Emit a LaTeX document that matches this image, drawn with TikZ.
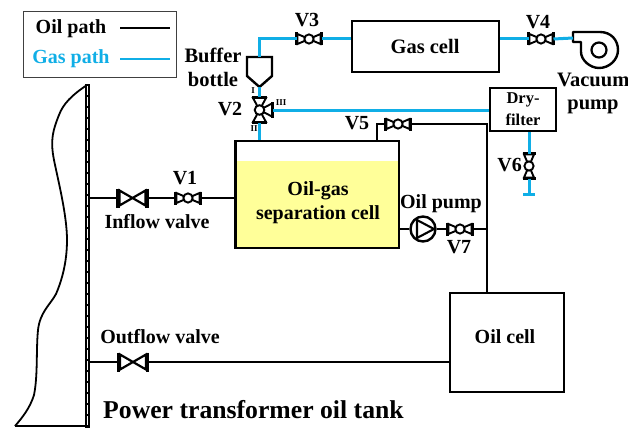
\documentclass[tikz,border=0pt]{standalone}
\usepackage{fontspec}
\setmainfont{Liberation Serif}
\definecolor{gasblue}{HTML}{10AEE6}
\definecolor{cellyellow}{HTML}{FFFF99}
\tikzset{
  x=1pt,y=-1pt,
  oil/.style={line width=2.5pt,black},
  gas/.style={line width=3pt,gasblue},
  boxed/.style={draw=black,line width=2.5pt,inner sep=0pt,outer sep=0pt},
  lab/.style={font=\bfseries\fontsize{20}{20}\selectfont,inner sep=0pt,align=center},
  tiny/.style={font=\bfseries\fontsize{9}{9}\selectfont,inner sep=0pt},
  pics/svalve/.style={code={
    \draw[line width=1.9pt,fill=white,line join=miter] (-11.5,-5) -- (-11.5,5) -- (0,0) -- cycle;
    \draw[line width=1.9pt,fill=white,line join=miter] (11.5,-5) -- (11.5,5) -- (0,0) -- cycle;
    \draw[line width=2.4pt] (-12.5,-6.5) -- (-12.5,6.5) (12.5,-6.5) -- (12.5,6.5);
    \draw[line width=1.9pt,fill=white] (0,0) circle (4.6);
    \coordinate (-w) at (-12.5,0); \coordinate (-e) at (12.5,0);
  }},
  pics/bvalve/.style={code={
    \draw[line width=2.2pt,fill=white,line join=miter] (-13,-7.5) -- (-13,7.5) -- (13,-7.5) -- (13,7.5) -- cycle;
    \draw[line width=3.4pt] (-14.5,-9.5) -- (-14.5,9.5) (14.5,-9.5) -- (14.5,9.5);
    \coordinate (-w) at (-14.5,0); \coordinate (-e) at (14.5,0);
  }},
}
\begin{document}
\begin{tikzpicture}
\useasboundingbox (0,0) rectangle (628,428);
% legend
\node[draw=black!75,line width=1pt,minimum width=153pt,minimum height=65pt,inner sep=0pt] (legend) at (99.5,44.5) {};
\node[lab] (oiltxt) at (71,29) {Oil path};
\node[lab,text=gasblue] (gastxt) at (71,59) {Gas path};
\coordinate (la) at (120,28); \coordinate (lb) at (170,28);
\coordinate (lc) at (120,59); \coordinate (ld) at (170,59);
\draw[line width=2.6pt] (la) -- (lb);
\draw[line width=2.6pt,gasblue] (lc) -- (ld);
% tank
\draw[line width=1.8pt] (87,85) .. controls (72,95) and (63,104) .. (59,115)
  .. controls (53,130) and (50,140) .. (54,160)
  .. controls (58,180) and (67,215) .. (67,240)
  .. controls (67,262) and (62,280) .. (56,294)
  .. controls (50,305) and (40,312) .. (38,330)
  .. controls (36,350) and (38,375) .. (34,395)
  .. controls (30,408) and (22,418) .. (15,426);
\draw[line width=5.5pt] (87.5,84) -- (87.5,428);
\draw[line width=1.6pt,white,dash pattern=on 9pt off 2pt] (87.5,86) -- (87.5,426);
\draw[line width=1.8pt] (15,426) -- (85,426);
\coordinate (wall1) at (90,198);
\coordinate (wall2) at (90,362);
% separator
\fill[cellyellow] (235.5,161) rectangle (399,248);
\node[boxed,minimum width=163.5pt,minimum height=107pt,anchor=north west] (sep) at (235.5,141) {};
\node[lab] (septxt) at (318,202.5) {Oil-gas\\[4pt]separation cell};
% boxes
\node[boxed,minimum width=147pt,minimum height=51pt,anchor=north west] (gascell) at (352,21) {};
\node[lab,font=\bfseries\fontsize{20.5}{20.5}\selectfont] at (425,46) {Gas cell};
\node[boxed,minimum width=66pt,minimum height=43pt,anchor=north west] (dry) at (490,88) {};
\node[lab,font=\bfseries\fontsize{16.5}{22}\selectfont] at (523,109) {Dry-\\filter};
\node[boxed,minimum width=114pt,minimum height=99pt,anchor=north west] (oilcell) at (450,293) {};
\node[lab,font=\bfseries\fontsize{20}{20}\selectfont] at (505,337) {Oil cell};
% valves
\pic (bv1) at (132.5,198) {bvalve};
\pic (bv2) at (133,362) {bvalve};
\pic (v1) at (188,198) {svalve};
\pic (v3) at (309,39) {svalve};
\pic (v4) at (541,39) {svalve};
\pic (v5) at (398,124) {svalve};
\pic[rotate=90] (v6) at (529,166) {svalve};
\pic (v7) at (460,229) {svalve};
% bottle
\draw[line width=2.4pt,fill=white,line join=miter] (247,57) -- (272,57) -- (272,76) -- (259.5,87) -- (247,76) -- cycle;
\coordinate (bottop) at (259.5,57);
\coordinate (bottip) at (259.5,87);
% V2
\coordinate (v2c) at (259.5,110);
\draw[line width=1.9pt,fill=white,line join=miter] (253,98) -- (266,98) -- (259.5,110) -- cycle;
\draw[line width=1.9pt,fill=white,line join=miter] (253,122) -- (266,122) -- (259.5,110) -- cycle;
\draw[line width=1.9pt,fill=white,line join=miter] (272,103.5) -- (272,116.5) -- (259.5,110) -- cycle;
\draw[line width=2.4pt] (252,97.5) -- (267,97.5) (252,122.5) -- (267,122.5) (272.5,102) -- (272.5,118);
\draw[line width=1.9pt,fill=white] (v2c) circle (4.8);
\coordinate (v2t) at (259.5,97);
\coordinate (v2b) at (259.5,123);
\coordinate (v2r) at (273,110);
% oil pump
\node[draw=black,line width=2.4pt,circle,minimum size=25pt,inner sep=0pt,fill=white] (opump) at (423,229) {};
\draw[line width=2.1pt,line join=miter] (417,220) -- (417,238) -- (434,229) -- cycle;
% vacuum pump
\draw[line width=2.4pt,line join=round,fill=white] (573,32) -- (600,32)
  .. controls (611,32) and (618,40) .. (618,50)
  .. controls (618,60) and (609,68) .. (599,68)
  .. controls (590,68) and (581,60) .. (581,52) -- (581,42) -- (573,42) -- cycle;
\node[draw=black,line width=2.2pt,circle,minimum size=15pt,inner sep=0pt] (vpump) at (599,50) {};
\coordinate (vpin) at (573,38);
% gas connectors
\coordinate (g1) at (259.5,39);
\coordinate (g2) at (529,194);
\coordinate (g2a) at (523,194); \coordinate (g2b) at (535,194);
\coordinate (dryb) at (529,132);
\coordinate (sept) at (259.5,140);
\draw[gas,line join=miter] (bottop) -- (g1) -- (v3-w);
\draw[gas] (v3-e) -- (351,39);
\draw[gas] (500,39) -- (v4-w);
\draw[gas] (v4-e) -- (vpin);
\draw[gas] (bottip) -- (v2t);
\draw[gas] (v2b) -- (sept);
\draw[gas] (v2r) -- (489,110);
\draw[gas] (dryb) -- (v6-e);
\draw[gas] (v6-w) -- (g2);
\draw[gas] (g2a) -- (g2b);
% oil connectors
\draw[oil] (wall1) -- (bv1-w);
\draw[oil] (bv1-e) -- (v1-w);
\draw[oil] (v1-e) -- (235.5,198);
\draw[oil] (wall2) -- (bv2-w);
\draw[oil] (bv2-e) -- (450,362);
\coordinate (o1) at (377,141); \coordinate (o2) at (377,124);
\coordinate (o3) at (487,124); \coordinate (o4) at (487,293);
\draw[oil,line join=miter] (o1) -- (o2) -- (v5-w);
\draw[oil,line join=miter] (v5-e) -- (o3) -- (o4);
\draw[oil] (399,229) -- (opump.west);
\draw[oil] (opump.east) -- (v7-w);
\draw[oil] (v7-e) -- (487,229);
% labels
\node[lab] at (307,20) {V3};
\node[lab] at (538,22) {V4};
\node[lab] at (185,178) {V1};
\node[lab] at (230,109) {V2};
\node[lab] at (357,123) {V5};
\node[lab,anchor=east] at (522,165) {V6};
\node[lab] at (459,247) {V7};
\node[lab] at (157,222) {Inflow valve};
\node[lab] at (160,337) {Outflow valve};
\node[lab] at (441,204) {Oil pump};
\node[lab,font=\bfseries\fontsize{20.5}{20.5}\selectfont] at (213,67.5) {Buffer\\[3pt]bottle};
\node[lab,anchor=west,font=\bfseries\fontsize{20.5}{20.5}\selectfont] at (557,80) {Vacuum};
\node[lab,font=\bfseries\fontsize{20.5}{20.5}\selectfont] at (593,107) {pump};
\node[tiny] at (253,91) {I};
\node[tiny] at (254,129) {II};
\node[tiny] at (281,103) {III};
\node[lab,anchor=west,font=\bfseries\fontsize{25.7}{25.7}\selectfont] at (103,410) {Power transformer oil tank};
\end{tikzpicture}
\end{document}
